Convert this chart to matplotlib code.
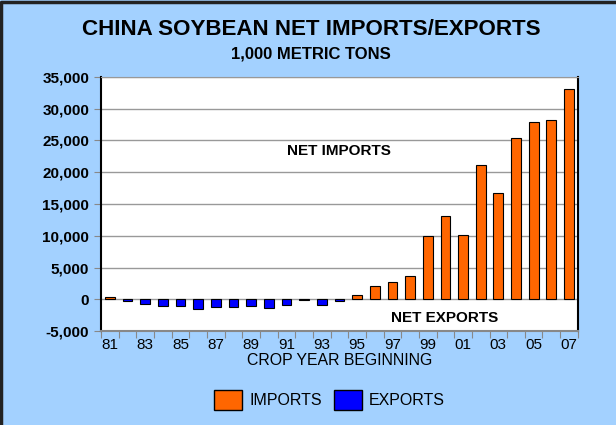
import numpy as np
import matplotlib.pyplot as plt
from matplotlib.patches import Rectangle
from matplotlib.lines import Line2D

plt.rcParams['font.family'] = ['Liberation Sans', 'DejaVu Sans']

years = ['81', '82', '83', '84', '85', '86', '87', '88', '89', '90', '91', '92', '93', '94',
         '95', '96', '97', '98', '99', '00', '01', '02', '03', '04', '05', '06', '07']
net_trade = [400, -200, -700, -1100, -1000, -1500, -1200, -1200, -1100, -1300, -900, -100,
             -900, -200, 600, 2100, 2800, 3700, 10000, 13100, 10100, 21100, 16700, 25400,
             27900, 28200, 33100]

bg = '#a3d1ff'
fig = plt.figure(figsize=(6.16, 4.25), dpi=100, facecolor=bg)
# dark frame only on top and left edges
fig.lines.append(Line2D([0.002, 0.002, 1], [0, 0.996, 0.996], transform=fig.transFigure,
                        color='#222222', linewidth=2.5, zorder=10))

ax = fig.add_axes([0.164, 0.221, 0.774, 0.598])
x = np.arange(len(years))
vals = np.array(net_trade)
colors = ['#ff6600' if v >= 0 else '#0000ff' for v in vals]
ax.bar(x, vals, width=0.55, color=colors, edgecolor='black', linewidth=0.8, zorder=3)

ax.set_xlim(-0.5, len(years) - 0.5)
ax.set_ylim(-5000, 35000)
ax.set_yticks(np.arange(-5000, 35001, 5000))
ax.set_yticklabels([f'{v:,}' for v in range(-5000, 35001, 5000)], fontweight='bold', fontsize=11)
ax.yaxis.grid(True, color='#999999', linewidth=1, zorder=0)
ax.set_xticks(np.arange(-0.5, len(years), 1))
ax.set_xticklabels([])
ax.set_xticks(x[::2], minor=True)
ax.set_xticklabels(years[::2], minor=True, fontsize=11)
ax.tick_params(axis='x', which='major', length=5, color='#888888', direction='out')
ax.tick_params(axis='x', which='minor', length=0, pad=5)
ax.tick_params(axis='y', length=5, color='#888888')
ax.spines['bottom'].set_color('#888888')
ax.spines['bottom'].set_linewidth(1.5)
ax.spines['top'].set_color('#999999')
ax.spines['left'].set_linewidth(1.5)
ax.spines['right'].set_linewidth(1.5)

ax.set_xlabel('CROP YEAR BEGINNING', fontsize=11.4, labelpad=1)
ax.text(0.5, 0.71, 'NET IMPORTS', transform=ax.transAxes, ha='center', va='center',
        fontsize=11, fontweight='bold')
ax.text(0.72, 0.05, 'NET EXPORTS', transform=ax.transAxes, ha='center', va='center',
        fontsize=11, fontweight='bold')

fig.text(0.505, 0.93, 'CHINA SOYBEAN NET IMPORTS/EXPORTS', ha='center', va='center',
         fontsize=16.1, fontweight='bold')
fig.text(0.505, 0.873, '1,000 METRIC TONS', ha='center', va='center', fontsize=12,
         fontweight='bold')

h1 = Rectangle((0, 0), 1, 1, facecolor='#ff6600', edgecolor='black')
h2 = Rectangle((0, 0), 1, 1, facecolor='#0000ff', edgecolor='black')
fig.legend([h1, h2], ['IMPORTS', 'EXPORTS'], loc='center', bbox_to_anchor=(0.535, 0.059),
           ncol=2, frameon=False, fontsize=11.5, handlelength=1.75, handleheight=1.6,
           columnspacing=0.75, handletextpad=0.45)

fig.savefig('out.png', dpi=100, facecolor=bg)
